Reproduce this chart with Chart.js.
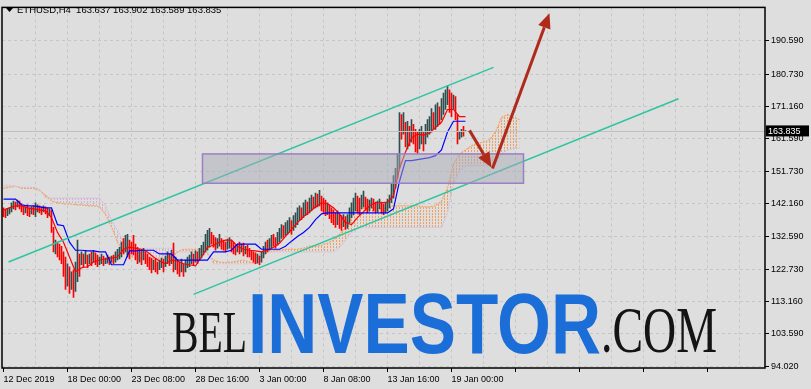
<!DOCTYPE html>
<html>
<head>
<meta charset="utf-8">
<script src="https://cdn.jsdelivr.net/npm/chart.js@4.4.1/dist/chart.umd.min.js"></script>
<style>
  html, body { margin: 0; padding: 0; background: #dedede; }
  #wrap { width: 811px; height: 389px; }
</style>
</head>
<body>
<div id="wrap"><canvas id="chart" width="811" height="389"></canvas></div>
<script>
// ETHUSD H4, one value per bar, bar 0 = 12 Dec 2019 16:00
const highs = [
  141.0,140.4,140.7,141.0,142.5,143.0,142.7,143.3,143.0,142.2,141.6,141.3,141.9,141.0,141.3,141.6,142.5,141.9,141.6,141.3,141.6,141.3,141.0,140.7,
  140.4,135.2,131.4,130.8,130.2,129.6,127.9,126.4,124.4,123.5,122.0,122.6,124.9,131.4,127.3,
  127.9,127.3,128.4,127.0,127.3,127.9,128.4,127.6,127.0,126.4,127.3,126.7,126.1,127.0,126.4,126.7,127.0,127.9,128.7,129.3,
  130.8,131.9,132.8,133.1,131.4,130.8,132.8,130.2,129.3,128.7,128.4,129.0,127.9,127.3,126.4,126.1,125.5,125.8,124.9,125.5,126.1,
  125.8,126.7,127.9,127.3,128.4,130.5,126.4,125.5,124.9,125.8,124.4,125.5,126.4,127.0,127.9,127.3,128.2,127.9,129.0,129.9,130.8,
  133.1,134.3,134.9,133.7,132.8,132.2,131.9,133.1,131.9,131.4,130.8,131.7,132.2,131.4,130.8,129.9,130.2,130.8,130.2,130.5,129.6,129.9,129.0,128.4,127.9,127.6,
  127.3,126.7,127.9,129.6,130.8,131.4,131.9,132.8,133.1,132.2,133.7,134.9,136.0,135.7,136.6,137.2,
  138.1,137.2,138.7,139.5,141.0,141.6,141.0,142.5,143.3,142.7,143.9,144.8,144.2,145.4,145.1,146.2,
  144.5,143.9,143.3,142.5,141.9,141.0,140.4,139.5,140.1,139.2,138.7,139.0,138.4,139.0,
  141.0,142.5,143.9,145.4,144.5,143.9,144.8,146.0,144.2,143.6,143.3,143.9,143.6,142.7,143.0,143.6,142.7,142.2,142.5,143.6,144.8,
  148.3,150.6,152.7,157.0,169.3,168.7,169.3,166.4,166.7,165.2,167.2,165.8,
  164.3,163.5,164.3,165.2,163.5,165.8,167.2,168.1,170.5,169.3,171.6,172.2,171.0,173.4,
  175.1,176.0,177.2,176.0,175.1,174.5,174.0,168.7,163.7,164.3,165.2,163.902
];
const lows = [
  138.4,138.1,138.7,139.2,139.8,140.7,140.4,141.3,140.7,139.8,139.0,139.5,138.7,138.4,139.2,139.0,138.4,139.8,139.5,139.0,139.8,139.2,138.1,138.7,
  133.7,127.9,127.3,126.4,125.5,124.4,120.6,116.8,117.7,115.6,116.8,114.4,116.2,119.1,120.6,
  124.1,123.5,124.4,123.2,124.4,123.8,124.9,124.1,123.5,124.1,124.4,123.8,124.4,124.6,124.1,124.9,124.4,124.9,125.5,125.8,
  126.4,127.3,127.9,126.4,125.8,127.3,127.0,125.5,124.4,124.9,124.1,125.5,124.4,123.5,122.6,121.7,122.6,122.0,121.4,122.6,123.2,
  122.0,123.5,124.4,123.8,124.4,122.0,122.6,121.4,120.6,122.0,120.6,122.0,123.2,123.5,124.4,124.1,124.9,124.4,125.5,126.1,127.0,
  127.9,128.4,129.3,130.2,129.3,128.4,129.0,129.6,128.7,128.4,127.9,128.7,129.0,127.9,127.3,127.0,127.9,127.3,127.9,126.7,127.3,126.4,126.4,125.5,124.9,124.4,
  124.6,124.1,124.9,126.1,127.3,127.9,128.4,129.0,129.6,129.0,129.9,130.8,131.9,132.2,132.8,133.1,
  133.7,133.1,134.3,135.2,136.0,137.2,137.5,138.1,138.7,139.0,139.5,140.1,140.7,141.0,141.3,141.6,
  140.1,139.5,138.7,139.0,137.8,136.6,136.0,135.2,136.0,134.9,134.3,135.4,134.6,134.9,
  136.6,138.1,139.0,140.1,139.5,139.0,140.7,141.3,140.4,139.5,140.1,141.0,140.1,139.5,139.8,140.7,139.5,139.0,139.5,140.1,141.0,
  142.5,143.9,146.8,149.7,152.7,161.4,162.9,159.1,158.5,159.4,160.5,160.0,
  157.6,157.0,158.5,160.0,157.9,160.0,162.0,162.9,163.5,164.3,164.3,165.2,165.8,167.2,
  168.7,170.2,171.6,169.3,168.1,170.2,167.2,160.0,161.4,162.0,162.3,163.589
];
// u = bullish bar, d = bearish bar
const barDirs = (
  'dduu uudu dddu ddud uudd uddu ' +
  'ddud dddd udud uud ' +
  'udud udud duud uudu duuu ' +
  'uduu dddd dudu dddd uddu uduu dudu ddud uuuu dudu uu ' +
  'uuud dduu dddu uddd udud uddd dd ' +
  'uduu uduu dduu uduu uduu uudu uduu dudu ' +
  'dddu dddd uddu du ' +
  'uuuu dduu dduu dduu dduu u ' +
  'uuuu udud udud ' +
  'dduu duuu uduu du ' +
  'uuud dudd uudu'
).replace(/ /g, '').split('');

// Ichimoku lines, read every 3rd bar
const sampleStep = 3;
const tenkan = [
  140.4,141.0,141.6,141.6,141.0,140.7,140.4,140.1,138.1,133.7,
  130.8,126.4,122.0,123.2,123.5,124.9,125.5,125.8,126.1,126.4,
  128.7,129.3,129.0,128.7,127.9,126.4,125.2,124.4,125.5,125.2,
  124.4,124.1,123.8,126.4,129.3,129.9,130.8,131.4,131.4,129.6,
  128.7,128.4,128.2,127.9,128.4,129.3,130.5,132.5,134.6,136.6,
  138.4,139.8,141.3,142.5,142.2,141.0,139.2,136.6,136.0,138.1,
  139.8,141.6,142.5,142.5,142.7,144.5,152.7,157.6,161.7,162.9,
  162.6,163.2,164.9,166.4,170.2,170.2,168.1,168.1
];
const kijun = [
  143.6,143.6,143.6,141.9,141.6,141.6,141.3,141.0,141.0,136.0,
  135.7,130.8,128.4,128.4,128.2,128.2,127.9,127.9,124.1,124.1,
  124.1,128.2,128.2,128.4,128.4,128.4,127.3,127.3,127.3,125.5,
  125.5,125.5,125.5,125.5,125.5,127.9,127.9,127.9,128.4,130.2,
  130.2,130.2,130.2,128.7,128.7,128.7,128.7,129.6,131.1,132.5,
  133.7,135.2,137.5,139.2,139.5,139.5,139.5,139.5,139.5,139.5,
  139.5,139.5,139.5,139.5,139.5,140.7,148.9,155.0,155.0,155.3,
  155.6,155.9,156.5,158.2,163.5,166.7,166.7,166.7
];
// Senkou spans (already shifted 26 bars ahead)
const spanA = [
  146.8,147.1,147.4,146.8,146.8,146.8,146.2,144.8,143.0,142.5,
  142.2,142.2,141.9,141.9,141.6,141.6,141.3,139.0,135.4,130.8,
  127.9,126.7,126.1,125.8,125.8,125.8,126.1,126.1,126.1,127.9,
  128.7,128.7,128.7,128.7,127.3,125.5,124.9,124.7,124.9,125.2,
  125.5,124.9,124.4,126.4,127.9,128.2,128.4,128.7,128.7,128.7,
  129.0,129.6,129.6,129.9,130.5,131.4,133.1,135.2,138.1,140.1,
  141.0,141.0,141.0,140.7,141.0,141.6,141.6,141.6,141.6,141.6,
  141.3,141.3,141.6,143.0,146.8,154.1,157.0,158.2,159.4,160.2,
  160.5,161.1,163.5,167.8,168.7,167.8,167.2
];
const spanB = [
  147.7,147.7,147.4,147.1,147.1,147.1,146.5,143.9,143.9,143.9,
  143.9,143.9,143.9,143.9,143.9,143.9,143.9,141.6,137.2,134.3,
  130.8,129.0,129.0,129.0,129.0,129.0,129.0,129.0,129.0,127.9,
  127.9,127.9,127.9,127.9,127.9,124.4,124.4,124.4,124.4,124.4,
  124.4,124.4,124.4,127.3,127.9,127.9,127.9,127.9,127.9,127.9,
  127.9,127.9,127.9,127.9,127.9,127.9,129.3,131.4,133.7,134.9,
  135.2,135.2,135.2,135.2,135.2,135.2,135.2,135.2,135.2,135.2,
  135.2,135.2,135.2,135.2,139.5,148.3,151.8,153.5,153.5,153.5,
  153.5,153.5,154.1,157.0,158.2,158.5,158.8
];

const timeLabels = ['12 Dec 2019', '18 Dec 00:00', '23 Dec 08:00', '28 Dec 16:00',
  '3 Jan 00:00', '8 Jan 08:00', '13 Jan 16:00', '19 Jan 00:00'];
const labelStep = 32;
const priceTicks = [190.59, 180.73, 171.16, 161.59, 151.73, 142.16, 132.59, 122.73, 113.16, 103.59, 94.02];
const symbol = 'ETHUSD,H4';
const lastOHLC = [163.637, 163.902, 163.589, 163.835];

// drawn objects, in [bar, price]
const channelUpper = [[2.5, 124.9], [245, 182.7]];
const channelLower = [[95, 115.3], [337.5, 173.4]];
const zone = [[99.5, 157.0], [260, 148.3]];
const arrowDown = [[233, 164.0], [244, 153.0]];
const arrowUp = [[244.5, 152.7], [273, 198.8]];

const canvas = document.getElementById('chart');
const ctx = canvas.getContext('2d');
const FONT = "'Liberation Sans', Arial, sans-serif";

function hatch(color) {
  const c = document.createElement('canvas');
  c.width = 3; c.height = 3;
  const g = c.getContext('2d');
  g.fillStyle = color;
  g.fillRect(0, 0, 1, 2);
  return ctx.createPattern(c, 'repeat');
}

const toPoints = arr => arr.map((v, k) => ({ x: k * sampleStep, y: v }));
const n = Math.min(highs.length, lows.length);
const barData = [], barColors = [];
for (let i = 0; i < n; i++) {
  barData.push({ x: i, y: [lows[i], highs[i]] });
  barColors.push(barDirs[i] === 'd' ? '#ff0000' : '#2f4f4f');
}

const overlay = {
  id: 'overlay',
  beforeDraw(chart) {
    const c = chart.ctx;
    c.save();
    c.fillStyle = '#dedede';
    c.fillRect(0, 0, chart.width, chart.height);
    c.restore();
  },
  afterDatasetsDraw(chart) {
    const c = chart.ctx, xs = chart.scales.x, ys = chart.scales.y, a = chart.chartArea;
    const P = p => [xs.getPixelForValue(p[0]), ys.getPixelForValue(p[1])];
    c.save();
    c.beginPath();
    c.rect(a.left, a.top, a.right - a.left, a.bottom - a.top);
    c.clip();

    // last price line
    const yLast = Math.round(ys.getPixelForValue(lastOHLC[3])) + 0.5;
    c.strokeStyle = '#c0c0c0';
    c.lineWidth = 1;
    c.beginPath(); c.moveTo(a.left, yLast); c.lineTo(a.right, yLast); c.stroke();

    // channel
    c.strokeStyle = '#2fc4a2';
    c.lineWidth = 1.6;
    [channelUpper, channelLower].forEach(l => {
      const p0 = P(l[0]), p1 = P(l[1]);
      c.beginPath(); c.moveTo(p0[0], p0[1]); c.lineTo(p1[0], p1[1]); c.stroke();
    });

    // zone
    const z0 = P(zone[0]), z1 = P(zone[1]);
    c.fillStyle = 'rgba(170,170,184,0.5)';
    c.fillRect(z0[0], z0[1], z1[0] - z0[0], z1[1] - z0[1]);
    c.strokeStyle = '#9a7fc2';
    c.lineWidth = 1.5;
    c.strokeRect(z0[0], z0[1], z1[0] - z0[0], z1[1] - z0[1]);

    // arrows
    [arrowDown, arrowUp].forEach(l => {
      const p0 = P(l[0]), p1 = P(l[1]);
      const ang = Math.atan2(p1[1] - p0[1], p1[0] - p0[0]);
      const hl = 15, hw = 6.5;
      const bx = p1[0] - hl * Math.cos(ang), by = p1[1] - hl * Math.sin(ang);
      c.strokeStyle = '#b02a1c';
      c.fillStyle = '#b02a1c';
      c.lineWidth = 3;
      c.beginPath(); c.moveTo(p0[0], p0[1]); c.lineTo(bx, by); c.stroke();
      c.beginPath();
      c.moveTo(p1[0], p1[1]);
      c.lineTo(bx + hw * Math.sin(ang), by - hw * Math.cos(ang));
      c.lineTo(bx - hw * Math.sin(ang), by + hw * Math.cos(ang));
      c.closePath(); c.fill();
    });
    c.restore();
  },
  afterDraw(chart) {
    const c = chart.ctx, ys = chart.scales.y, a = chart.chartArea;
    c.save();
    // frame
    c.strokeStyle = '#000';
    c.lineWidth = 1.5;
    c.strokeRect(a.left, a.top, a.right - a.left, a.bottom - a.top);

    // last price label
    const yLast = ys.getPixelForValue(lastOHLC[3]);
    c.fillStyle = '#000';
    c.fillRect(a.right + 1, yLast - 5.5, 43, 11);
    c.fillStyle = '#fff';
    c.font = '9px ' + FONT;
    c.textBaseline = 'middle';
    c.fillText(lastOHLC[3].toFixed(3), a.right + 3, yLast + 0.5);

    // header
    c.fillStyle = '#000';
    c.beginPath(); c.moveTo(6, 8); c.lineTo(13, 8); c.lineTo(9.5, 12); c.closePath(); c.fill();
    c.font = '9.5px ' + FONT;
    c.fillText(symbol + '  ' + lastOHLC.map(v => v.toFixed(3)).join(' '), 17, 10.5);

    // watermark
    c.textBaseline = 'alphabetic';
    c.fillStyle = '#141414';
    c.font = "60px 'Liberation Serif', serif";
    c.fillText('BEL', 172, 352, 75);
    c.fillStyle = '#1b6ed8';
    c.font = "bold 86px " + FONT;
    c.fillText('INVESTOR', 248, 353, 353);
    c.fillStyle = '#141414';
    c.font = "66px 'Liberation Serif', serif";
    c.fillText('.COM', 601, 352, 116);
    c.restore();
  }
};

new Chart(ctx, {
  type: 'bar',
  data: {
    datasets: [
      { type: 'line', data: toPoints(spanA), borderColor: '#f4a460', borderWidth: 1.2, borderDash: [2, 1],
        pointRadius: 0, fill: { target: '+1', above: hatch('#f2a060'), below: hatch('#d2b4d2') }, order: 6 },
      { type: 'line', data: toPoints(spanB), borderColor: '#d8bfd8', borderWidth: 1.2, borderDash: [2, 1],
        pointRadius: 0, fill: false, order: 5 },
      { type: 'bar', data: barData, backgroundColor: barColors, barThickness: 1, borderWidth: 0, order: 4 },
      { type: 'line', data: toPoints(tenkan), borderColor: '#ff0000', borderWidth: 1.2, pointRadius: 0, fill: false, order: 3 },
      { type: 'line', data: toPoints(kijun), borderColor: '#0000ff', borderWidth: 1.2, pointRadius: 0, fill: false, order: 2 }
    ]
  },
  options: {
    responsive: false,
    animation: false,
    devicePixelRatio: 1,
    layout: { padding: { left: 2, top: 1, right: 0, bottom: 0 } },
    plugins: { legend: { display: false }, tooltip: { enabled: false } },
    scales: {
      x: {
        type: 'linear', min: -0.75, max: 380.75, offset: false,
        afterBuildTicks: s => { s.ticks = []; for (let v = 0; v <= 368; v += labelStep / 2) s.ticks.push({ value: v }); },
        afterFit: s => { s.height = 21; },
        ticks: {
          autoSkip: false, maxRotation: 0, align: 'start', padding: 2, color: '#000',
          font: { family: FONT, size: 9 },
          callback: v => (v % labelStep === 0 ? (timeLabels[v / labelStep] || '') : '')
        },
        grid: {
          offset: false, lineWidth: 1, tickLength: 4,
          color: c => (c.tick && c.tick.value === 0 ? 'rgba(0,0,0,0)' : '#c6c6c6'),
          tickColor: c => (c.tick && c.tick.value % labelStep === 0 ? '#000' : 'rgba(0,0,0,0)')
        },
        border: { display: false, dash: [3, 3] }
      },
      y: {
        type: 'linear', position: 'right', min: 93.44, max: 200.51,
        afterBuildTicks: s => { s.ticks = priceTicks.map(v => ({ value: v })); },
        afterFit: s => { s.width = 46; },
        ticks: { padding: 2, color: '#000', font: { family: FONT, size: 9 }, callback: v => v.toFixed(3) },
        grid: { lineWidth: 1, tickLength: 4, color: '#c6c6c6', tickColor: '#000' },
        border: { display: false, dash: [3, 3] }
      }
    }
  },
  plugins: [overlay]
});
</script>
</body>
</html>
